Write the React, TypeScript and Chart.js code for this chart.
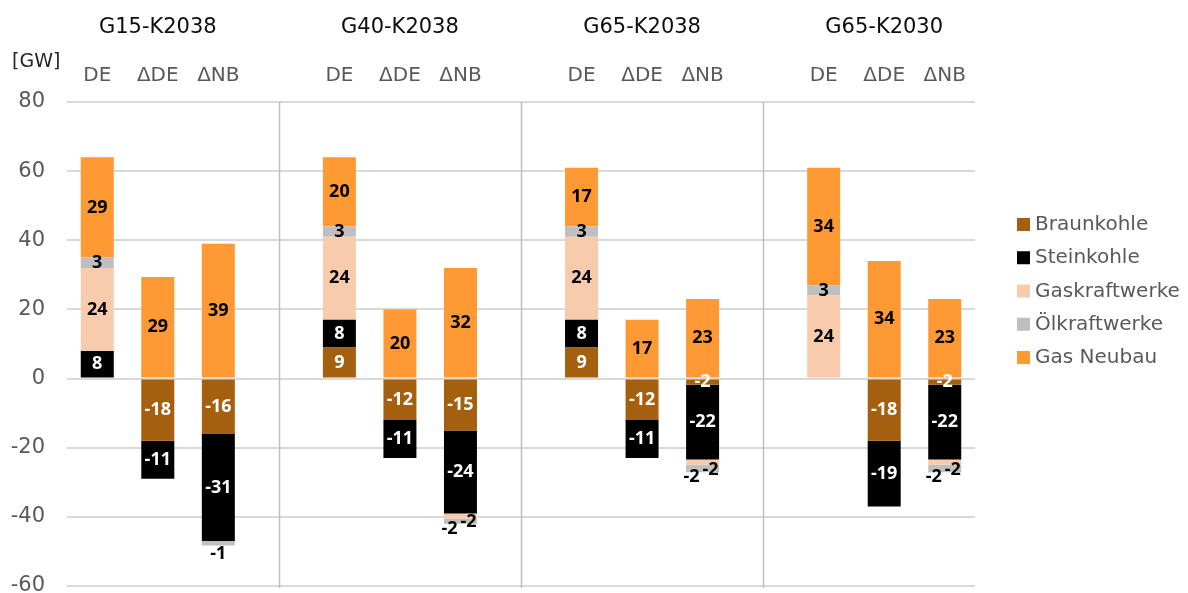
import React, { useEffect, useRef } from "react";
import { Chart, registerables } from "chart.js";

Chart.register(...registerables);

// ---- data ----
const groupTitles = ["G15-K2038", "G40-K2038", "G65-K2038", "G65-K2030"];
const barLabels = ["DE", "ΔDE", "ΔNB"];
const seriesNames = ["Braunkohle", "Steinkohle", "Gaskraftwerke", "Ölkraftwerke", "Gas Neubau"];
const seriesColors = ["#A5600F", "#000000", "#F8CBAD", "#BFBFBF", "#FF9933"];
const labelColors = ["#FFFFFF", "#FFFFFF", "#000000", "#000000", "#000000"];

// order per group: DE, ΔDE, ΔNB
const braunkohle = [null, -18, -16, 9, -12, -15, 9, -12, -1.8, null, -18, -1.8];
const steinkohle = [8, -11, -31, 8, -11, -24, 8, -11, -21.6, null, -19, -21.6];
const gaskraftwerke = [24, null, null, 24, null, -1.5, 24, null, -1.5, 24, null, -1.5];
const oelkraftwerke = [3, null, -1.3, 3, null, -1.5, 3, null, -2.2, 3, null, -2.2];
const gasNeubau = [29, 29.4, 39, 20, 20, 32, 17, 17, 23, 34, 34, 23];

const yMin = -60;
const yMax = 80;
const yStep = 20;

// insert an empty category between groups
function withGaps<T>(arr: T[], gap: T): T[] {
  const out: T[] = [];
  arr.forEach((v, i) => {
    if (i > 0 && i % 3 === 0) out.push(gap);
    out.push(v);
  });
  return out;
}

const categoryLabels: string[] = withGaps(
  groupTitles.flatMap(() => barLabels),
  ""
);
const isGap = withGaps(groupTitles.flatMap(() => [false, false, false]), true);
const seriesData = [braunkohle, steinkohle, gaskraftwerke, oelkraftwerke, gasNeubau].map((s) =>
  withGaps<number | null>(s, null)
);

const FONT = "'DejaVu Sans', sans-serif";
const LABEL_FONT = "bold 18px 'Open Sans', sans-serif";

const overlayPlugin = {
  id: "overlay",
  beforeDatasetsDraw(chart: any) {
    const { ctx, chartArea, scales } = chart;
    const x = scales.x;
    ctx.save();
    ctx.strokeStyle = "#bfbfbf";
    ctx.lineWidth = 1.5;
    isGap.forEach((g: boolean, i: number) => {
      if (!g) return;
      const px = Math.round(x.getPixelForValue(i)) + 0.5;
      ctx.beginPath();
      ctx.moveTo(px, chartArea.top);
      ctx.lineTo(px, chartArea.bottom + 2);
      ctx.stroke();
    });
    ctx.restore();
  },
  afterDatasetsDraw(chart: any) {
    const { ctx } = chart;
    ctx.save();
    ctx.font = LABEL_FONT;
    ctx.textAlign = "center";
    ctx.textBaseline = "middle";
    const n = categoryLabels.length;
    for (let i = 0; i < n; i++) {
      // bottom of the negative stack
      let bottom = -Infinity;
      seriesData.forEach((s, d) => {
        const v = s[i];
        if (v != null && v < 0) {
          const el = chart.getDatasetMeta(d).data[i];
          bottom = Math.max(bottom, el.y, el.base);
        }
      });
      seriesData.forEach((s, d) => {
        const v = s[i];
        if (v == null || v === 0) return;
        const el = chart.getDatasetMeta(d).data[i];
        const h = Math.abs(el.base - el.y);
        let lx = el.x;
        let ly = (el.y + el.base) / 2;
        if (v < 0 && h < 9) {
          if (d === 2) {
            lx = el.x - 11;
            ly = bottom + 5;
          } else if (d === 3) {
            const gas = seriesData[2][i];
            if (gas != null && gas < 0) {
              lx = el.x + 8;
              ly = ly + 1;
            } else {
              ly = bottom + 8;
            }
          }
        }
        ctx.fillStyle = labelColors[d];
        ctx.fillText(Number(v).toFixed(0), lx, ly);
      });
    }
    ctx.restore();
  },
  afterDraw(chart: any) {
    const { ctx, scales } = chart;
    const x = scales.x;
    ctx.save();
    ctx.textBaseline = "alphabetic";
    ctx.textAlign = "center";
    // group titles
    ctx.font = `21px ${FONT}`;
    ctx.fillStyle = "#0D0D0D";
    groupTitles.forEach((t, g) => {
      const mid = g * 4 + 1;
      ctx.fillText(t, x.getPixelForValue(mid), 33);
    });
    // bar sub labels
    ctx.font = `20px ${FONT}`;
    ctx.fillStyle = "#595959";
    categoryLabels.forEach((l, i) => {
      if (!l) return;
      ctx.fillText(l, x.getPixelForValue(i), 81);
    });
    // unit
    ctx.textAlign = "left";
    ctx.font = `19px ${FONT}`;
    ctx.fillStyle = "#262626";
    ctx.fillText("[GW]", 12, 67);
    // legend
    ctx.font = `20px ${FONT}`;
    seriesNames.forEach((name, d) => {
      const base = 230 + d * 33.25;
      ctx.fillStyle = seriesColors[d];
      ctx.fillRect(1017, base - 12, 13, 13);
      ctx.fillStyle = "#595959";
      ctx.fillText(name, 1035, base);
    });
    ctx.restore();
  },
};

export default function App() {
  const canvasRef = useRef<HTMLCanvasElement | null>(null);

  useEffect(() => {
    if (!canvasRef.current) return;
    const chart = new Chart(canvasRef.current, {
      type: "bar",
      data: {
        labels: categoryLabels,
        datasets: seriesNames.map((name, d) => ({
          label: name,
          data: seriesData[d],
          backgroundColor: seriesColors[d],
          borderWidth: 0,
          barPercentage: 0.545,
          categoryPercentage: 1,
        })),
      },
      options: {
        responsive: false,
        animation: false,
        layout: {
          autoPadding: false,
          padding: { left: 0, right: 213, top: 102, bottom: 7 },
        },
        plugins: {
          legend: { display: false },
          tooltip: { enabled: false },
          title: { display: false },
        },
        scales: {
          x: {
            stacked: true,
            display: false,
            offset: true,
          },
          y: {
            stacked: true,
            min: yMin,
            max: yMax,
            afterFit: (scale: any) => {
              scale.width = 67;
              scale.paddingTop = 0;
              scale.paddingBottom = 0;
            },
            border: { display: false },
            grid: { color: "#D9D9D9", lineWidth: 2, drawTicks: false },
            ticks: {
              stepSize: yStep,
              padding: 22,
              color: "#595959",
              font: { family: "'DejaVu Sans', sans-serif", size: 21 },
            },
          },
        },
      },
      plugins: [overlayPlugin],
    } as any);
    return () => chart.destroy();
  }, []);

  return (
    <div style={{ position: "fixed", left: 0, top: 0, width: 1188, height: 593, background: "#fff" }}>
      <canvas ref={canvasRef} width={1188} height={593} style={{ display: "block" }} />
    </div>
  );
}
